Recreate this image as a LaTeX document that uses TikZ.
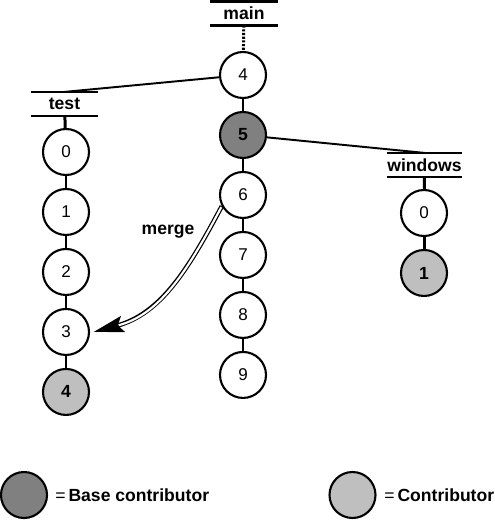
\documentclass[tikz,border=0pt]{standalone}
\usepackage{fontspec}
\setmainfont{Liberation Sans}
\usetikzlibrary{arrows.meta}
\tikzset{
    commit/.style={draw, circle, line width=1.2pt, minimum size=0.92cm, inner sep=0pt, fill=white},
    base/.style={commit, fill=gray!100!white, font=\bfseries},
    contrib/.style={commit, fill=black!25, font=\bfseries},
    branch/.style={minimum width=1.34cm, minimum height=0.47cm, inner sep=0pt, font=\bfseries},
    bar/.style={black, line width=1.5pt},
    link/.style={black, line width=1.7pt},
    fork/.style={black, line width=1.1pt},
}
\begin{document}
\begin{tikzpicture}[x=0.02cm, y=-0.02cm, node distance=1.2cm, font=\fontsize{9.7}{11}\selectfont]
    \useasboundingbox (0,0) rectangle (494,520);

    % branches
    \node [branch] (main) at (244,13.5)  {main};
    \node [branch] (test) at (64.5,104)  {test};
    \node [branch] (win)  at (424.5,165) {windows};
    \foreach \b in {main,test,win}
        \draw [bar] (\b.north west) -- (\b.north east) (\b.south west) -- (\b.south east);

    % main
    \node [commit] (m4) at (243,75) {4};
    \node [base]    [below of=m4] (m5) {5};
    \node [commit]  [below of=m5] (m6) {6};
    \node [commit]  [below of=m6] (m7) {7};
    \node [commit]  [below of=m7] (m8) {8};
    \node [commit]  [below of=m8] (m9) {9};

    % test
    \node [commit] (t0) at (66,152) {0};
    \node [commit]  [below of=t0] (t1) {1};
    \node [commit]  [below of=t1] (t2) {2};
    \node [commit]  [below of=t2] (t3) {3};
    \node [contrib] [below of=t3] (t4) {4};

    % windows
    \node [commit] (w0) at (424,213) {0};
    \node [contrib] [below of=w0] (w1) {1};

    \draw [link, dash pattern=on 1.2pt off 0.9pt] (main) to (m4);
    \draw [link] (test) to (t0);
    \draw [link] (win) to (w0);
    \foreach \a/\b in {m4/m5,m5/m6,m6/m7,m7/m8,m8/m9,t0/t1,t1/t2,t2/t3,t3/t4,w0/w1}
        \draw [link] (\a) to (\b);

    \draw [fork] (m4) to (test.north);
    \draw [fork] (m5) to (win.north);

    % merge (outer black stroke with tip, then white core)
    \draw [black, line width=2.6pt, -{Stealth[length=0.6cm, width=0.32cm, inset=0.1cm]}]
        (m6.208) to [out=242, in=15] ([xshift=2pt]t3.east);
    \draw [white, line width=1.2pt, shorten <=0.6pt, shorten >=0.52cm]
        (m6.208) to [out=242, in=15] ([xshift=2pt]t3.east);
    \node [font=\bfseries] (merge) at (168,232) {merge};

    % legend
    \node [base] (lbase) at (24,495) {};
    \node [anchor=west, inner sep=0pt, font=\bfseries] (tbase) at (55,495) {\mdseries=\,\bfseries Base contributor};
    \node [contrib] (lcon) at (352.5,495) {};
    \node [anchor=west, inner sep=0pt, font=\bfseries] (tcon) at (384,495) {\mdseries=\,\bfseries Contributor};
\end{tikzpicture}
\end{document}
